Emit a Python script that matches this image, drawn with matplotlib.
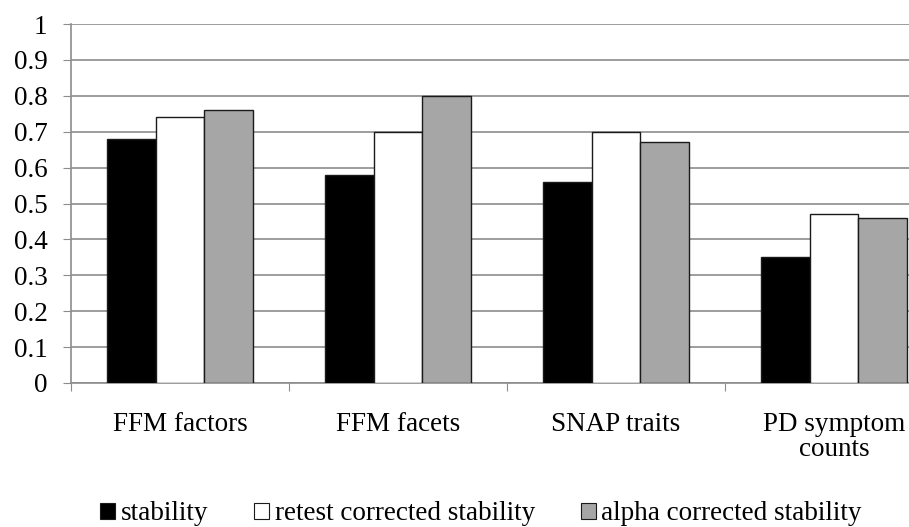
import numpy as np
import matplotlib
matplotlib.use('Agg')
from matplotlib import pyplot as plt
from matplotlib.patches import Patch

# data
categories = ['FFM factors', 'FFM facets', 'SNAP traits', 'PD symptom\ncounts']
stability = [0.68, 0.58, 0.56, 0.35]
retest = [0.74, 0.70, 0.70, 0.47]
alpha = [0.76, 0.80, 0.67, 0.46]
series_names = ['stability', 'retest corrected stability', 'alpha corrected stability']
yticks = [0, 0.1, 0.2, 0.3, 0.4, 0.5, 0.6, 0.7, 0.8, 0.9, 1]

plt.rcParams['font.family'] = ['Liberation Serif', 'DejaVu Serif']

fig = plt.figure(figsize=(9.09, 5.27), dpi=100)
# plot area runs past the right edge (the original is cropped there)
ax = fig.add_axes([71/909, 1 - 383/527, 872/909, 359/527])

x = np.arange(len(categories))
w = 0.222
colors = ['black', 'white', '#a6a6a6']
for k, vals in enumerate([stability, retest, alpha]):
    ax.bar(x + (k - 1)*w, vals, w, color=colors[k], edgecolor='#1a1a1a',
           linewidth=1.0, zorder=3)

ax.set_xlim(-0.5, len(categories) - 0.5)
ax.set_ylim(0, 1)
ax.set_yticks(yticks)
ax.set_yticklabels(['0'] + ['%g' % t for t in yticks[1:]], fontsize=19.5)
ax.yaxis.grid(True, color='#8c8c8c', linewidth=1.2, zorder=0)
ax.tick_params(axis='y', length=6, color='#8c8c8c', pad=11)

ax.set_xticks(np.arange(len(categories) + 1) - 0.5)
ax.set_xticklabels([])
ax.set_xticks(x, minor=True)
ax.set_xticklabels(categories, minor=True, fontsize=19.5, linespacing=1.0)
ax.tick_params(axis='x', which='major', length=6, color='#8c8c8c')
ax.tick_params(axis='x', which='minor', length=0, pad=21)

for s in ['top', 'right']:
    ax.spines[s].set_visible(False)
for s in ['left', 'bottom']:
    ax.spines[s].set_color('#8c8c8c')
    ax.spines[s].set_linewidth(1.2)

handles = [Patch(facecolor=c, edgecolor='#1a1a1a', linewidth=0.8) for c in colors]
fig.legend(handles, series_names, loc='center', bbox_to_anchor=(481/909, 1 - 514/527),
           ncol=3, frameon=False, fontsize=19.5, handlelength=0.55, handleheight=0.55,
           handletextpad=0.2, columnspacing=1.7)

fig.savefig('out.png', dpi=100, facecolor='white')
